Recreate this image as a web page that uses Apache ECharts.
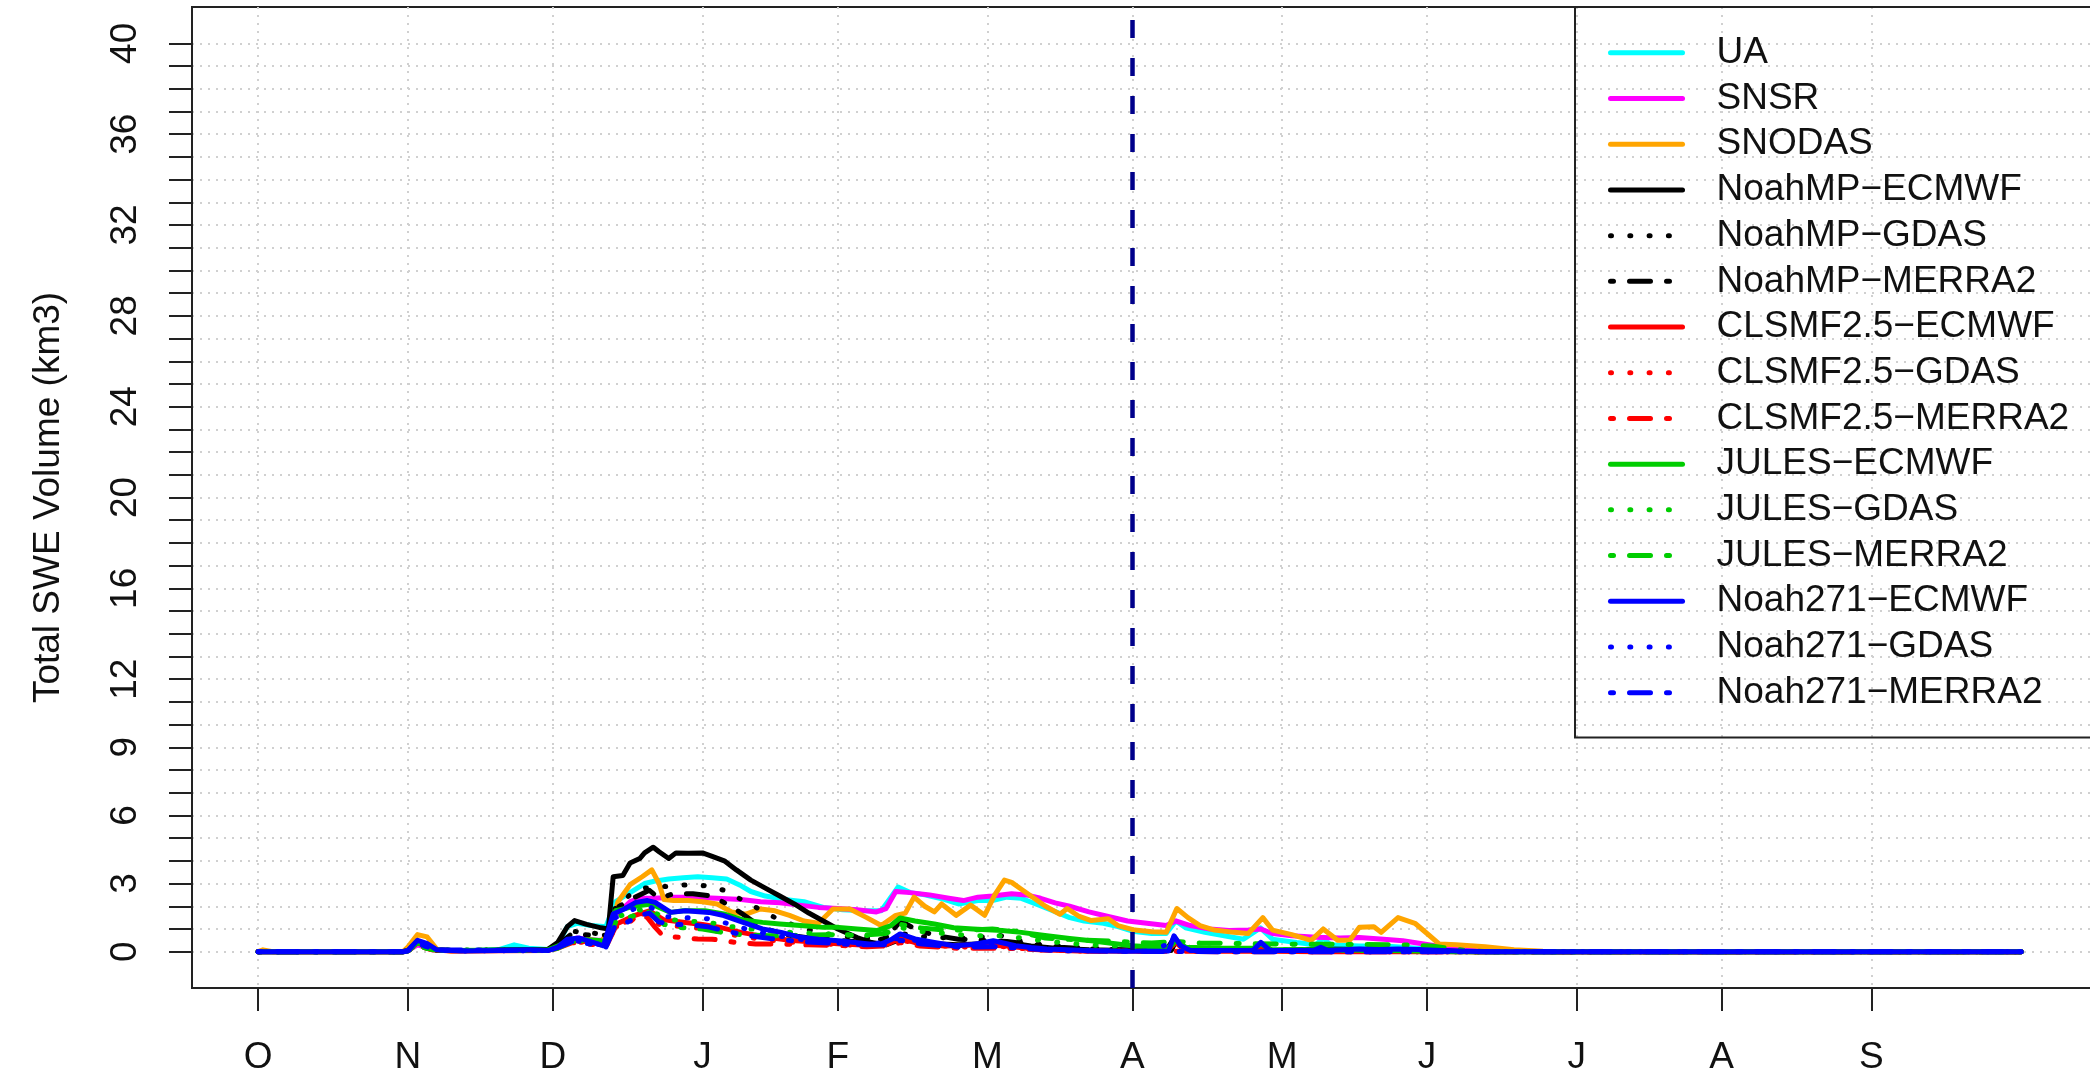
<!DOCTYPE html>
<html><head><meta charset="utf-8">
<script src="https://cdn.jsdelivr.net/npm/echarts@6/dist/echarts.min.js"></script>
<style>html,body{margin:0;padding:0;background:#fff}#c{width:2090px;height:1074px}</style>
</head><body><div id="c"></div>
<script>
// ---- axis ticks / labels (x = days since 1 October) ----
const monthTicks = [0, 31, 61, 92, 120, 151, 181, 212, 242, 273, 303, 334];
const monthLabels = ['O', 'N', 'D', 'J', 'F', 'M', 'A', 'M', 'J', 'J', 'A', 'S'];
const yTicks = [0,1,2,3,4,5,6,7,8,9,10,11,12,13,14,15,16,17,18,19,20,21,22,23,24,25,26,27,28,29,30,31,32,33,34,35,36,37,38,39,40];
const yLabels = [0, 3, 6, 9, 12, 16, 20, 24, 28, 32, 36, 40];
const refLineDay = 181;

// ---- series names / colours / line types ----
const seriesNames = ['UA','SNSR','SNODAS','NoahMP\u2212ECMWF','NoahMP\u2212GDAS','NoahMP\u2212MERRA2',
  'CLSMF2.5\u2212ECMWF','CLSMF2.5\u2212GDAS','CLSMF2.5\u2212MERRA2','JULES\u2212ECMWF','JULES\u2212GDAS','JULES\u2212MERRA2',
  'Noah271\u2212ECMWF','Noah271\u2212GDAS','Noah271\u2212MERRA2'];
const seriesColors = ['#00FFFF','#FF00FF','#FFA500','#000000','#000000','#000000',
  '#FF0000','#FF0000','#FF0000','#00CD00','#00CD00','#00CD00','#0000FF','#0000FF','#0000FF'];
const seriesTypes = ['solid','solid','solid','solid','dotted','dotdash','solid','dotted','dotdash',
  'solid','dotted','dotdash','solid','dotted','dotdash'];

// ---- values: [day since 1 Oct, total SWE volume km3] ----
const UA = [[0,0],[30,0],[31,0.1],[33,0.4],[35,0.3],[37,0.05],[45,0.05],[50,0.1],[53,0.3],[56,0.15],[60,0.1],[62,0.3],[64,1.1],[66,1.25],[69,1.15],[72,1.1],[74,2.2],[77,2.6],[80,3.0],[82,3.1],[85,3.2],[88,3.25],[91,3.3],[94,3.25],[97,3.2],[100,2.9],[102,2.65],[105,2.45],[109,2.3],[113,2.2],[117,1.95],[121,1.85],[125,1.8],[129,1.8],[131,2.4],[132.5,2.85],[135,2.6],[138,2.5],[142,2.3],[145,2.1],[149,2.25],[152,2.25],[155,2.4],[158,2.35],[161,2.1],[164,1.85],[168,1.5],[171,1.35],[175,1.25],[178,1.1],[181,0.9],[185,0.8],[188,0.8],[190,1.35],[192,1.05],[196,0.85],[200,0.7],[204,0.55],[207.5,1.05],[210,0.55],[215,0.4],[219,0.3],[220.5,0.6],[222,0.3],[228,0.25],[233,0.25],[237,0.2],[242,0.12],[247,0.07],[252,0.03],[258,0],[365,0]];
const SNSR = [[0,0],[30,0],[31,0.05],[33,0.3],[36,0.1],[40,0.05],[55,0.05],[60,0.1],[63,0.3],[66,0.6],[70,0.5],[72,0.5],[74,1.6],[77,2.2],[79,2.35],[82,2.35],[86,2.4],[90,2.4],[95,2.35],[100,2.3],[104,2.2],[108,2.15],[112,2.05],[116,1.95],[120,1.9],[124,1.85],[128,1.75],[130,1.9],[132,2.65],[135,2.6],[139,2.5],[143,2.35],[146,2.25],[149,2.4],[152,2.45],[156,2.55],[159,2.5],[162,2.35],[165,2.15],[168,2.0],[172,1.75],[176,1.55],[180,1.35],[184,1.25],[188,1.15],[190,1.35],[193,1.15],[197,1.0],[201,0.93],[205,0.95],[207.5,1.0],[210,0.8],[214,0.7],[219,0.63],[224,0.6],[228,0.62],[233,0.55],[237,0.48],[241,0.35],[245,0.22],[249,0.12],[255,0.06],[262,0.02],[268,0],[365,0]];
const SNODAS = [[0,0],[1,0.08],[3,0],[30,0],[31,0.2],[33,0.75],[35,0.65],[37,0.1],[40,0.03],[50,0.05],[58,0.05],[61,0.12],[63,0.3],[65,0.5],[68,0.55],[71,0.45],[73,1.0],[74.5,2.2],[77,2.95],[79.5,3.3],[81.5,3.6],[83,3.0],[84,2.3],[86,2.25],[89,2.25],[92,2.2],[95,2.1],[98,1.75],[101,1.65],[104,1.88],[107,1.8],[110,1.6],[113,1.35],[116,1.25],[119,1.88],[122.5,1.88],[126,1.5],[129,1.15],[132,1.6],[134,1.7],[135.8,2.4],[138,2.0],[140,1.75],[141.5,2.1],[144.5,1.6],[147.5,2.05],[150.4,1.6],[152.5,2.5],[154.5,3.15],[156,3.05],[158,2.75],[160,2.45],[163,2.0],[166,1.65],[167.5,1.9],[170,1.55],[172.5,1.37],[176,1.45],[178,1.15],[181.5,0.95],[185,0.88],[188,0.85],[190.2,1.9],[192.5,1.5],[195,1.15],[198,0.95],[202,0.85],[205,0.8],[208,1.5],[210,0.95],[214,0.75],[218,0.5],[220.5,1.0],[223.5,0.5],[226,0.5],[228,1.07],[231,1.1],[232.5,0.85],[236,1.5],[239.5,1.25],[242,0.8],[244.5,0.34],[248,0.3],[254,0.22],[260,0.08],[266,0.02],[270,0],[365,0]];
const NoahMP_ECMWF = [[0,0],[30,0],[31,0.05],[33,0.45],[35,0.3],[37,0.05],[45,0.05],[55,0.1],[60,0.1],[62,0.4],[64,1.1],[65.5,1.37],[68,1.2],[71,1.05],[72.5,1.0],[73.5,3.3],[75.5,3.35],[77,3.9],[79,4.1],[80,4.35],[81.8,4.6],[83,4.4],[85,4.1],[86.5,4.35],[89,4.33],[92,4.35],[94,4.2],[96.5,4.0],[99,3.6],[102,3.15],[105,2.8],[108,2.45],[111,2.1],[114,1.7],[117,1.35],[120,1.0],[124,0.62],[127,0.4],[130,0.3],[133,0.55],[136,0.45],[140,0.35],[145,0.3],[150,0.35],[155,0.4],[160,0.25],[165,0.15],[172,0.08],[180,0.05],[188,0.05],[189.6,0.6],[192,0.1],[206,0.05],[207.6,0.35],[210,0.05],[220,0.12],[230,0.1],[240,0.08],[248,0.02],[252,0],[365,0]];
const NoahMP_GDAS = [[0,0],[30,0],[31,0.05],[33,0.4],[36,0.1],[40,0.05],[60,0.1],[62,0.3],[65,0.9],[70,0.8],[73,0.9],[74,2.0],[77,2.5],[80,2.8],[83,2.85],[86,2.9],[89,2.95],[93,2.9],[96.5,2.7],[100,2.3],[103.5,1.9],[107,1.5],[111,1.15],[115,0.9],[118.5,0.75],[123,0.65],[128,0.55],[133,0.8],[138.8,0.63],[146,0.6],[150,0.65],[153.5,0.72],[157,0.5],[161,0.34],[165,0.26],[169,0.19],[175,0.12],[182,0.08],[189,0.05],[190,0.4],[192,0.05],[215,0.05],[230,0.03],[240,0],[365,0]];
const NoahMP_MERRA2 = [[0,0],[30,0],[31,0.05],[33,0.35],[36,0.08],[40,0.05],[60,0.08],[62,0.3],[65,0.8],[70,0.7],[73,0.75],[74,1.9],[78,2.4],[81,2.7],[83,2.35],[86,2.55],[90,2.55],[94,2.45],[97,2.1],[100,1.7],[103,1.25],[106,0.95],[110,0.72],[115,0.58],[120,0.5],[126,0.4],[130,0.6],[133,1.35],[136,1.0],[140,0.72],[145,0.55],[150,0.5],[155,0.45],[160,0.32],[166,0.2],[172,0.12],[180,0.08],[189,0.05],[190,0.45],[192,0.05],[220,0.05],[240,0.02],[250,0],[365,0]];
const CLSM_ECMWF = [[0,0],[30,0],[31,0.05],[33,0.4],[36,0.08],[40,0.03],[60,0.05],[62,0.2],[65,0.5],[70,0.4],[72,0.3],[74,1.2],[78,1.6],[81,1.8],[84,1.4],[88,1.3],[92,1.2],[96,1.05],[100,0.85],[105,0.65],[110,0.5],[115,0.42],[120,0.35],[126,0.28],[130,0.3],[133,0.6],[136,0.4],[142,0.25],[150,0.3],[155,0.25],[162,0.08],[170,0.03],[188,0.02],[190,0.4],[192,0.02],[207,0.02],[208,0.25],[210,0.02],[220,0],[365,0]];
const CLSM_GDAS = [[0,0],[30,0],[31,0.05],[33,0.35],[36,0.05],[60,0.05],[62,0.2],[65,0.45],[70,0.35],[72,0.25],[74,1.1],[78,1.5],[80,1.7],[83,1.2],[88,1.1],[93,1.0],[98,0.75],[104,0.55],[110,0.42],[116,0.35],[122,0.3],[128,0.25],[133,0.5],[137,0.35],[145,0.2],[153,0.25],[160,0.1],[170,0.03],[190,0.02],[220,0],[365,0]];
const CLSM_MERRA2 = [[0,0],[30,0],[31,0.03],[33,0.3],[36,0.05],[60,0.05],[62,0.15],[65,0.4],[70,0.3],[72,0.2],[74,1.1],[76,1.15],[79,1.66],[80.6,1.5],[82.2,1.07],[83.8,0.7],[87,0.63],[91,0.56],[94,0.55],[98.8,0.41],[103,0.34],[108,0.34],[114,0.3],[120,0.28],[126,0.22],[130,0.25],[133,0.4],[137,0.25],[145,0.15],[155,0.15],[165,0.05],[175,0.02],[200,0],[365,0]];
const JULES_ECMWF = [[0,0],[30,0],[31,0.05],[33,0.4],[36,0.1],[40,0.05],[60,0.08],[62,0.25],[65,0.55],[70,0.5],[72,0.45],[74,1.8],[77,1.95],[79,2.03],[81.4,2.1],[83,1.95],[85.4,1.73],[88,1.8],[92.5,1.8],[96.4,1.66],[100.4,1.4],[104.4,1.29],[108,1.22],[112.3,1.15],[117,1.07],[120.2,1.07],[124,1.0],[128.1,0.93],[131,1.15],[132.9,1.48],[136,1.35],[140,1.22],[144,1.05],[148,1.0],[154,0.93],[158,0.85],[163.3,0.7],[168,0.58],[172.5,0.48],[177,0.36],[181,0.26],[186,0.2],[188.5,0.19],[190,0.48],[192,0.2],[200,0.15],[206,0.15],[207.6,0.34],[209.5,0.1],[220,0.08],[230,0.06],[240,0.03],[248,0],[365,0]];
const JULES_GDAS = [[0,0],[30,0],[31,0.05],[33,0.35],[36,0.08],[60,0.05],[62,0.2],[65,0.5],[70,0.45],[72,0.4],[74,1.5],[78,1.8],[81,1.9],[84,1.45],[88,1.35],[93,1.3],[98,1.1],[104,0.95],[110,0.85],[116,0.8],[122,0.75],[128,0.7],[132,1.1],[137,0.9],[142,0.8],[148,0.7],[154,0.7],[160,0.55],[166,0.4],[172,0.3],[180,0.22],[188,0.18],[190,0.4],[193,0.18],[205,0.12],[208,0.28],[211,0.1],[225,0.06],[240,0.03],[250,0],[365,0]];
const JULES_MERRA2 = [[0,0],[30,0],[31,0.03],[33,0.3],[36,0.05],[60,0.05],[62,0.15],[65,0.45],[70,0.4],[72,0.35],[74,1.3],[78,1.6],[81,1.75],[84,1.2],[88,1.05],[92,1.0],[96,0.85],[100,0.75],[106,0.7],[112,0.72],[118,0.75],[124,0.72],[130,0.8],[133,1.2],[137,1.05],[142,0.95],[147,0.95],[152,1.0],[157,0.9],[163,0.6],[170,0.52],[178,0.45],[185,0.38],[190,0.45],[195,0.38],[205,0.35],[215,0.33],[225,0.32],[237,0.3],[243,0.25],[250,0.05],[255,0],[365,0]];
const Noah271_ECMWF = [[0,0],[30,0],[31,0.05],[33,0.5],[35,0.35],[37,0.08],[42,0.03],[50,0.05],[56,0.08],[60,0.05],[62,0.2],[64,0.55],[66.5,0.6],[69.5,0.4],[71.5,0.26],[73.5,1.66],[75.8,1.88],[78.2,2.17],[80.6,2.25],[82.2,2.17],[85.4,1.73],[88.5,1.8],[93.3,1.73],[96.4,1.59],[100.4,1.29],[104.4,1.0],[108.3,0.85],[112.3,0.63],[116,0.55],[120.2,0.48],[126.5,0.34],[129,0.34],[131.3,0.56],[132.9,0.78],[136,0.56],[140,0.41],[144,0.26],[147,0.3],[149.5,0.37],[152.2,0.48],[156.8,0.26],[160,0.18],[163.3,0.12],[172.5,0.04],[180,0.02],[188.5,0.03],[189.6,0.7],[191,0.26],[193,0.05],[206,0.06],[207.6,0.41],[209.5,0.05],[218.5,0.05],[220,0.19],[221.5,0.05],[228,0.12],[232,0.1],[236,0.12],[240,0.1],[245,0.05],[250,0.02],[255,0],[365,0]];
const Noah271_GDAS = [[0,0],[30,0],[31,0.05],[33,0.45],[36,0.1],[40,0.03],[60,0.05],[62,0.2],[65,0.5],[70,0.35],[72,0.25],[74,1.5],[78,1.9],[81,2.0],[84,1.55],[88,1.5],[93,1.45],[97,1.25],[101,1.0],[106,0.75],[112,0.55],[118,0.42],[124,0.32],[130,0.4],[133,0.65],[137,0.45],[143,0.25],[150,0.32],[155,0.3],[160,0.15],[168,0.05],[185,0.02],[190,0.5],[192,0.03],[220,0],[365,0]];
const Noah271_MERRA2 = [[0,0],[30,0],[31,0.03],[33,0.4],[36,0.08],[60,0.05],[62,0.18],[65,0.45],[70,0.3],[72,0.2],[74,1.2],[76,1.25],[79,1.6],[81,1.7],[83,1.3],[86,1.2],[89,1.2],[93,1.1],[97,0.9],[101,0.72],[106,0.58],[112,0.45],[118,0.38],[124,0.3],[130,0.3],[133,0.5],[137,0.35],[145,0.2],[152,0.22],[158,0.15],[165,0.05],[180,0.02],[200,0],[365,0]];

const seriesData = [UA, SNSR, SNODAS, NoahMP_ECMWF, NoahMP_GDAS, NoahMP_MERRA2,
  CLSM_ECMWF, CLSM_GDAS, CLSM_MERRA2, JULES_ECMWF, JULES_GDAS, JULES_MERRA2,
  Noah271_ECMWF, Noah271_GDAS, Noah271_MERRA2];

const FONT = '"Liberation Sans", Arial, Helvetica, sans-serif';
const dashMap = { solid: 'solid', dotted: [1, 18.3], dotdash: [3, 16, 21, 16] };

const chart = echarts.init(document.getElementById('c'), null, { renderer: 'canvas' });

const lineStyleOf = i => ({ color: seriesColors[i], width: 5, type: dashMap[seriesTypes[i]], cap: 'round', join: 'round', opacity: 1 });

const series = seriesNames.map((name, i) => {
  const s = {
    name: name,
    type: 'line',
    data: seriesData[i],
    symbol: 'none',
    showSymbol: false,
    animation: false,
    silent: true,
    emphasis: { disabled: true },
    lineStyle: lineStyleOf(i),
    itemStyle: { color: seriesColors[i] }
  };
  if (i === seriesNames.length - 1) {
    s.markLine = {
      silent: true, symbol: ['none', 'none'], animation: false,
      label: { show: false },
      lineStyle: { color: '#00008B', width: 4.5, type: [18, 20], cap: 'butt' },
      data: [{ xAxis: refLineDay }]
    };
  }
  return s;
});

const legendData = seriesNames.map((name, i) => ({
  name: name,
  itemStyle: { color: 'transparent', borderWidth: 0, opacity: 0 },
  lineStyle: lineStyleOf(i)
}));

chart.setOption({
  backgroundColor: '#ffffff',
  animation: false,
  grid: {
    left: 192, top: 7, right: -6, bottom: 86,
    containLabel: false, outerBoundsMode: 'none',
    show: true, borderColor: '#222', borderWidth: 2, backgroundColor: 'transparent'
  },
  xAxis: {
    type: 'value', min: -13.7, max: 380.5,
    axisLine: { show: true, onZero: false, lineStyle: { color: '#222', width: 2 } },
    axisTick: { show: true, inside: false, length: 23, customValues: monthTicks, lineStyle: { color: '#222', width: 2 } },
    axisLabel: {
      show: true, customValues: monthTicks, margin: 51,
      formatter: v => monthLabels[monthTicks.indexOf(v)] || '',
      fontFamily: FONT, fontSize: 37, color: '#111'
    },
    splitLine: { show: true, lineStyle: { color: '#d0d0d0', width: 2, type: [2, 6] } }
  },
  yAxis: {
    type: 'value', min: -1.6, max: 41.6,
    name: 'Total SWE Volume (km3)', nameLocation: 'middle', nameGap: 125, nameRotate: 90,
    nameTextStyle: { fontFamily: FONT, fontSize: 37, color: '#111' },
    axisLine: { show: true, onZero: false, lineStyle: { color: '#222', width: 2 } },
    axisTick: { show: true, inside: false, length: 23, customValues: yTicks, lineStyle: { color: '#222', width: 2 } },
    axisLabel: {
      show: true, customValues: yLabels, rotate: 90, margin: 48,
      fontFamily: FONT, fontSize: 37, color: '#111'
    },
    splitLine: { show: true, lineStyle: { color: '#d0d0d0', width: 2, type: [2, 6] } }
  },
  legend: {
    show: true, orient: 'vertical', left: 1575, top: 7,
    padding: [23, 60, 22, 33], itemGap: 0, itemWidth: 72, itemHeight: 14,
    borderColor: '#222', borderWidth: 2, backgroundColor: 'transparent',
    selectedMode: false,
    itemStyle: { color: 'transparent', borderWidth: 0, opacity: 0 },
    textStyle: { fontFamily: FONT, fontSize: 37, color: '#111', lineHeight: 45.7, padding: [0, 0, 0, 29] },
    data: legendData
  },
  series: series
});
</script></body></html>
